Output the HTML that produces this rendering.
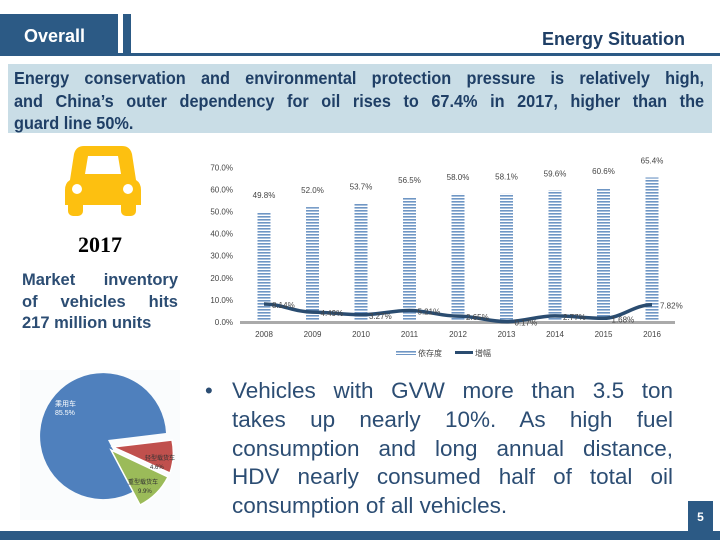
<!DOCTYPE html>
<html><head><meta charset="utf-8"><style>
body{margin:0;width:720px;height:540px;position:relative;overflow:hidden;background:#fff;font-family:"Liberation Sans","Noto Sans CJK SC",sans-serif}
.abs{position:absolute}
.just{text-align:justify;text-align-last:justify;white-space:nowrap}
</style></head><body>
<div class="abs" style="left:0;top:14px;width:118px;height:41px;background:#2c5a85;color:#fff;font-weight:bold;font-size:18px;line-height:44px;padding-left:24px;box-sizing:border-box">Overall</div>
<div class="abs" style="left:123px;top:14px;width:8px;height:41px;background:#2c5a85"></div>
<div class="abs" style="left:0;top:53px;width:720px;height:3px;background:#2c5a85"></div>
<div class="abs" style="right:35px;top:29px;font-size:18px;font-weight:bold;color:#1f3f66">Energy Situation</div>
<div class="abs" style="left:8px;top:64px;width:704px;height:69px;background:#c9dde6"></div>
<div class="abs" style="left:14px;top:67px;width:742px;font-size:17.5px;font-weight:bold;color:#1f3f66;line-height:22.5px;transform:scaleX(0.93);transform-origin:0 0">
<div class="just">Energy conservation and environmental protection pressure is relatively high,</div>
<div class="just">and China’s outer dependency for oil rises to 67.4% in 2017, higher than the</div>
<div>guard line 50%.</div></div>

<svg class="abs" style="left:0;top:0" width="200" height="230">
<path d="M84 146 H122 Q130 146 132 154 L136 180 Q141 183 141 190 V205 H65 V190 Q65 183 70 180 L74 154 Q76 146 84 146Z" fill="#fdc010"/>
<path d="M88 156 H118 L121 174 H85Z" fill="#fff"/>
<rect x="68" y="200" width="15" height="16" rx="5" fill="#fdc010"/><rect x="121" y="200" width="15" height="16" rx="5" fill="#fdc010"/>
<circle cx="77" cy="189" r="5" fill="#fff"/><circle cx="128" cy="189" r="5" fill="#fff"/>
</svg>
<div class="abs" style="left:78px;top:232px;font-family:'Liberation Serif',serif;font-weight:bold;font-size:22px">2017</div>
<div class="abs" style="left:22px;top:270px;width:156px;font-size:16.5px;font-weight:bold;color:#2c4d73;line-height:21.5px"><div class="just">Market inventory</div><div class="just">of vehicles hits</div><div>217 million units</div></div>

<svg class="abs" id="chart" style="left:0;top:0" width="720" height="370"></svg>

<svg class="abs" style="left:0;top:360px" width="200" height="172">
<rect x="20" y="10" width="160" height="150" fill="#fafcfd"/>
<path d="M108 80 L166 73 A63 63 0 1 0 134 131 Z" fill="#4f80bd"/>
<path d="M113 87 L172 80 A63 63 0 0 1 170 113 Z" fill="#c0504d" stroke="#fff" stroke-width="1.5"/>
<path d="M111 90 L168 117 A63 63 0 0 1 140 145 Z" fill="#9bbb59" stroke="#fff" stroke-width="1.5"/>
<text x="55" y="46" font-size="7" fill="#fff">乘用车</text><text x="55" y="55" font-size="7" fill="#fff">85.5%</text>
<text x="145" y="100" font-size="6" fill="#333">轻型载货车</text><text x="150" y="109" font-size="6" fill="#333">4.6%</text>
<text x="128" y="124" font-size="6" fill="#333">重型载货车</text><text x="138" y="133" font-size="6" fill="#333">9.9%</text>
</svg>

<div class="abs" style="left:205px;top:378px;font-size:22px;color:#2c4d73">•</div>
<div class="abs" style="left:232px;top:377px;width:441px;font-size:22.5px;line-height:28.8px;color:#2c4d73">
<div class="just">Vehicles with GVW more than 3.5 ton</div>
<div class="just">takes up nearly 10%. As high fuel</div>
<div class="just">consumption and long annual distance,</div>
<div class="just">HDV nearly consumed half of total oil</div>
<div style="white-space:nowrap">consumption of all vehicles.</div></div>
<div class="abs" style="left:688px;top:501px;width:25px;height:30px;background:#2c5a85;color:#fff;font-size:12px;font-weight:bold;text-align:center;line-height:32px">5</div>
<div class="abs" style="left:0;top:531px;width:720px;height:9px;background:#2c5a85"></div>

<script>
const years=["2008","2009","2010","2011","2012","2013","2014","2015","2016"];
const dependency=[49.8,52.0,53.7,56.5,58.0,58.1,59.6,60.6,65.4];
const growth=[8.14,4.49,3.27,5.21,2.65,0.17,2.77,1.68,7.82];
const yTicks=[0,10,20,30,40,50,60,70];
const NS="http://www.w3.org/2000/svg";
const svg=document.getElementById('chart');
const xS=i=>264+i*48.5;
const yS=v=>322-v*2.21;
function mk(t,a,txt){const e=document.createElementNS(NS,t);for(const k in a)e.setAttribute(k,a[k]);if(txt!=null)e.textContent=txt;svg.appendChild(e);return e;}
const defs=mk('defs',{});
defs.innerHTML='<pattern id="stripe" width="4" height="3" patternUnits="userSpaceOnUse"><rect width="4" height="3" fill="#fff"/><rect width="4" height="1.6" fill="#6f96c4"/></pattern>';
yTicks.forEach(t=>{const e=mk('text',{x:233,y:yS(t)+3,'text-anchor':'end','font-size':8,fill:'#444'},t.toFixed(1)+'%');

});
dependency.forEach((v,i)=>{const r=mk('rect',{x:xS(i)-6.5,y:yS(v),width:13,height:yS(0)-yS(v),fill:'url(#stripe)'});


const l=mk('text',{x:xS(i),y:yS(v)-14,'text-anchor':'middle','font-size':8,fill:'#444'},v.toFixed(1)+'%');

});
const base=mk('rect',{x:240,y:321,width:435,height:3,fill:'#aaa'});


let d='';growth.forEach((v,i)=>{const x=xS(i),y=yS(v);if(i==0)d+='M'+x+' '+y;else{const px=xS(i-1),py=yS(growth[i-1]);d+=` C${px+18} ${py} ${x-18} ${y} ${x} ${y}`;}});
const line=mk('path',{d:d,fill:'none',stroke:'#2a4c70','stroke-width':3.5});


growth.forEach((v,i)=>{const l=mk('text',{x:xS(i)+8,y:yS(v)+4,'font-size':8,fill:'#444'},v.toFixed(2)+'%');

});
years.forEach((y,i)=>{const l=mk('text',{x:xS(i),y:337,'text-anchor':'middle','font-size':8,fill:'#444'},y);

});
const lg1=mk('rect',{x:396,y:350,width:20,height:5,fill:'url(#stripe)'});


const lt1=mk('text',{x:418,y:356,'font-size':8,fill:'#444'},'依存度');


const lg2=mk('rect',{x:455,y:351,width:18,height:3,fill:'#2a4c70'});


const lt2=mk('text',{x:475,y:356,'font-size':8,fill:'#444'},'增幅');


</script>
</body></html>
